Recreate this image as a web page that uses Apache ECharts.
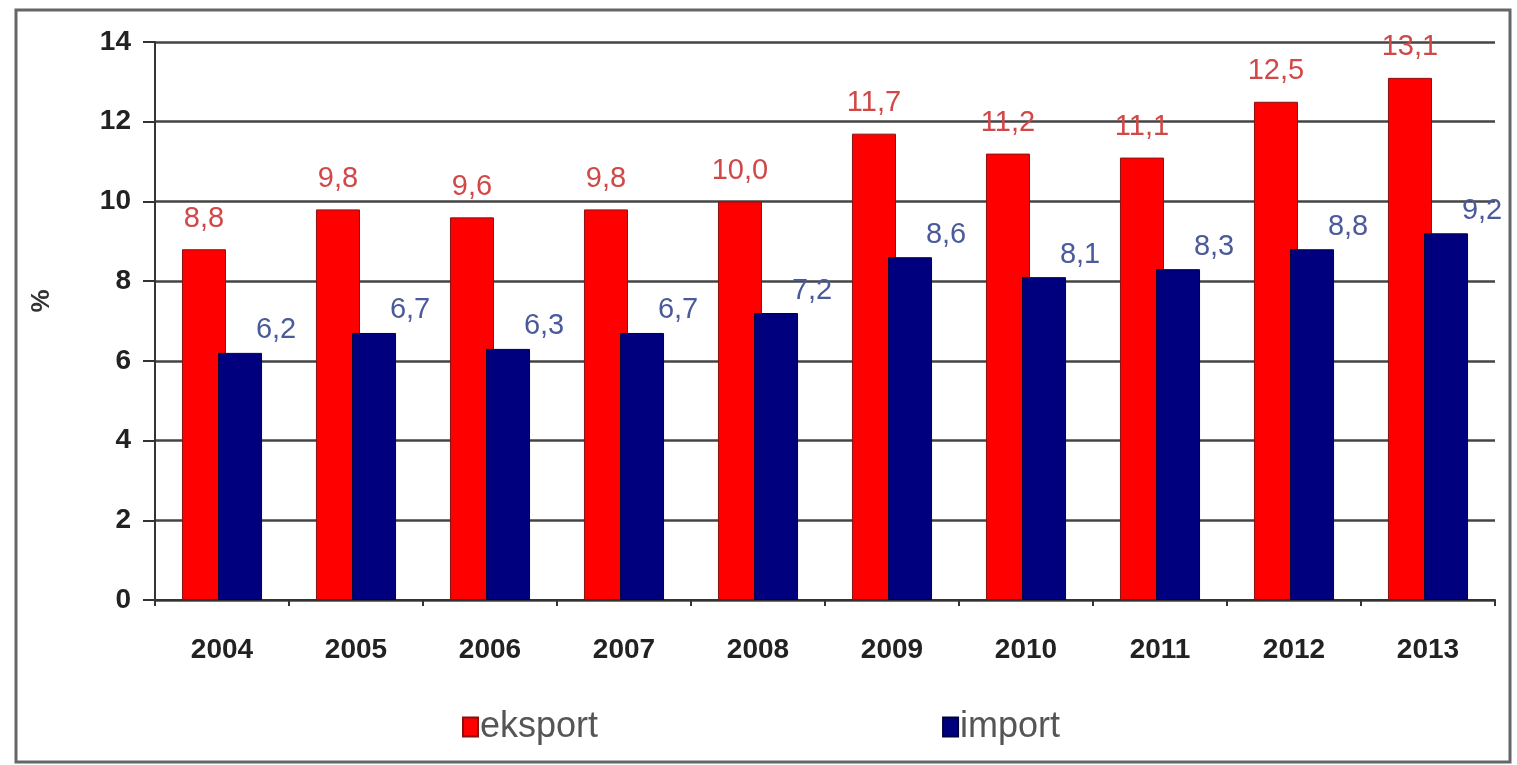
<!DOCTYPE html>
<html><head><meta charset="utf-8">
<script src="https://cdn.jsdelivr.net/npm/echarts@6/dist/echarts.min.js"></script>
<style>html,body{margin:0;padding:0;background:#fff}#c{width:1517px;height:765px}</style>
</head><body><div id="c"></div>
<script>
const years = ['2004','2005','2006','2007','2008','2009','2010','2011','2012','2013'];
const eksport = [8.8, 9.8, 9.6, 9.8, 10.0, 11.7, 11.2, 11.1, 12.5, 13.1];
const importVals = [6.2, 6.7, 6.3, 6.7, 7.2, 8.6, 8.1, 8.3, 8.8, 9.2];
const yTicks = [0, 2, 4, 6, 8, 10, 12, 14];

const fmt = p => p.value.toFixed(1).replace('.', ',');
const chart = echarts.init(document.getElementById('c'));
chart.setOption({
  animation: false,
  backgroundColor: '#fff',
  graphic: [{type:'rect', shape:{x:16, y:10, width:1494, height:752},
    style:{fill:'none', stroke:'#666', lineWidth:3}, silent:true}],
  grid: {left:155, right:22, top:42, bottom:165},
  legend: {
    data: ['eksport','import'], bottom: 15, left: 457, itemGap: 344,
    itemWidth: 15, itemHeight: 19, icon: 'rect',
    textStyle: {fontSize: 36, color: '#555', fontFamily: 'Liberation Sans, Arial', padding:[0,0,0,-3]}
  },
  xAxis: {
    type: 'category', data: years,
    axisLine: {lineStyle: {color: '#333', width: 2}},
    axisTick: {show: true, length: 6, lineStyle: {color:'#333', width:2}},
    axisLabel: {fontSize: 28, fontWeight: 'bold', color: '#222', margin: 36, fontFamily: 'Liberation Sans, Arial'}
  },
  yAxis: {
    type: 'value', min: 0, max: 14, interval: 2,
    name: '%', nameLocation: 'middle', nameGap: 100, nameRotate: 90,
    nameTextStyle: {fontSize: 26, fontWeight: 'bold', color: '#333', padding: [0, 0, 0, 40]},
    axisLine: {show: true, lineStyle: {color: '#333', width: 2}},
    axisTick: {show: true, length: 12, lineStyle: {color:'#333', width:2}},
    axisLabel: {fontSize: 28, fontWeight: 'bold', color: '#222', margin: 24, fontFamily: 'Liberation Sans, Arial',
      formatter: v => yTicks.includes(v) ? String(v) : ''},
    splitLine: {lineStyle: {color: '#444', width: 2.5}}
  },
  series: [
    {name: 'eksport', type: 'bar', data: eksport, barWidth: 44, barGap: '-18%',
     itemStyle: {color: '#ff0000', borderColor: '#8a1010', borderWidth: 1},
     label: {show: true, position: 'top', distance: 16, formatter: fmt,
       fontSize: 29, color: '#d04848', fontFamily: 'Liberation Sans, Arial'}},
    {name: 'import', type: 'bar', data: importVals, barWidth: 44,
     itemStyle: {color: '#00007e', borderColor: '#000040', borderWidth: 1},
     label: {show: true, position: 'top', distance: 8, offset: [36, 0], formatter: fmt,
       fontSize: 29, color: '#4a5a9a', fontFamily: 'Liberation Sans, Arial'}}
  ]
});
</script></body></html>
